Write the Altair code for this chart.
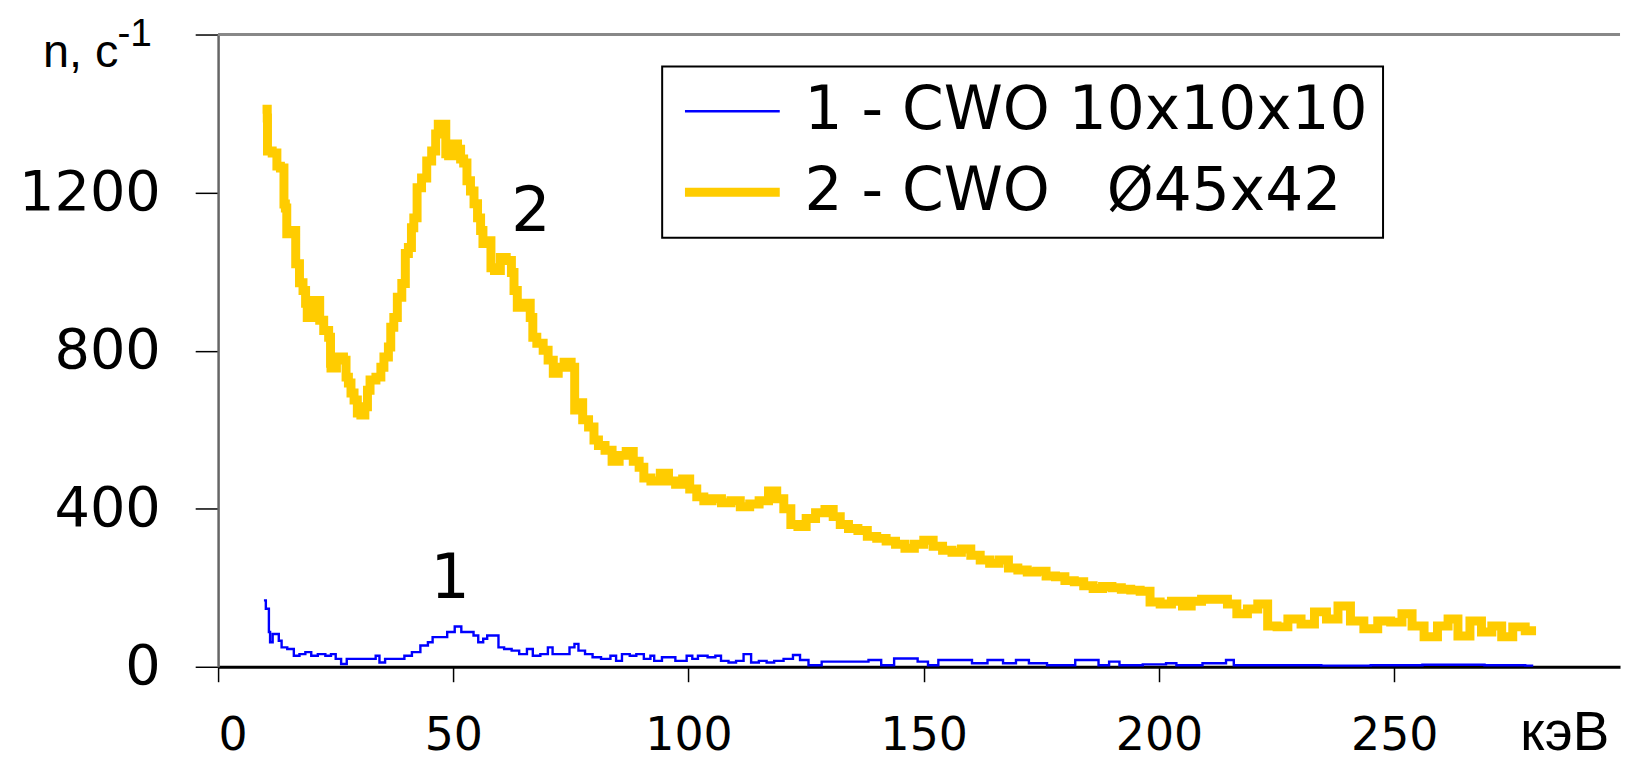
import altair as alt
import pandas as pd

# ---- series 1 : CWO 10x10x10 (blue) ----
E1 = [10.0, 10.3, 10.8, 10.8, 11.3, 11.9, 12.7, 13.1, 13.9, 15.5, 16.7, 17.9, 19.2, 20.4, 22.0,
      23.6, 24.4, 25.6, 26.7, 28.0, 33.3, 33.7, 34.9, 36.1, 39.0, 40.2, 42.2, 43.8, 45.4, 45.8,
      47.9, 49.5, 51.1, 52.3, 53.9, 54.7, 55.9, 56.8, 57.6, 59.2, 60.0, 61.6, 63.2, 64.8, 66.5,
      67.3, 69.7, 70.5, 71.7, 74.1, 75.3, 76.2, 77.0, 79.0, 80.2, 82.6, 84.2, 85.0, 86.7, 88.3,
      89.5, 91.5, 92.3, 93.1, 95.6, 98.8, 100.4, 101.2, 102.8, 105.3, 106.1, 107.7, 109.3, 110.9,
      112.5, 114.1, 115.8, 117.4, 119.0, 121.4, 123.0, 124.4, 126.6, 130.0, 136.6, 139.9, 142.0,
      145.4, 147.6, 149.8, 152.0, 154.2, 158.6, 161.9, 165.2, 168.5, 170.7, 174.0, 178.4, 186.0,
      188.3, 190.5, 192.7, 200.4, 202.6, 204.8, 213.7, 214.8, 217.0, 229.0, 240.0, 250.0, 262.0,
      276.4, 279.3]
N1 = [168, 147, 147, 88, 62, 83, 83, 66, 49, 45, 28, 32, 37, 28, 32,
      28, 32, 20, 7, 20, 20, 28, 11, 20, 20, 28, 37, 54, 62, 75,
      75, 88, 102, 88, 88, 79, 62, 71, 79, 79, 49, 45, 41, 32, 45,
      28, 32, 49, 32, 32, 49, 58, 41, 32, 24, 20, 28, 15, 32, 28,
      32, 20, 28, 15, 24, 15, 28, 20, 28, 24, 28, 15, 11, 15,
      32, 11, 15, 11, 15, 20, 30, 17, 4, 13, 13, 17, 4,
      21, 21, 13, 4, 17, 17, 9, 17, 9, 17, 9, 4, 17,
      4, 13, 4, 6, 9, 4, 9, 17, 4, 4, 3, 4, 5,
      4, 3]

# ---- series 2 : CWO diam 45x42 (yellow) ----
E2 = [10.4, 10.5, 10.5, 12.5, 12.5, 14.0, 14.0, 14.6, 14.6, 16.5, 16.5, 17.1, 17.5, 18.6, 18.6,
      19.3, 20.3, 21.4, 21.8, 23.1, 23.9, 23.9, 24.1, 26.2, 27.1, 27.3, 28.1, 28.4, 29.4, 29.8,
      30.9, 31.5, 32.0, 32.6, 34.5, 34.7, 35.8, 36.6, 36.8, 37.9, 38.3, 39.8, 39.8, 41.1, 41.1,
      42.1, 42.5, 44.0, 44.7, 46.1, 46.4, 47.2, 48.3, 48.5, 49.5, 50.4, 51.4, 51.7, 52.7, 53.1,
      54.2, 54.6, 55.7, 55.9, 56.7, 58.0, 58.0, 59.5, 60.5, 62.0, 62.7, 63.1, 64.1, 65.8, 66.9,
      66.9, 68.6, 69.6, 70.7, 71.8, 72.8, 74.3, 75.8, 75.8, 77.1, 77.9, 79.6, 80.2, 81.5, 83.0,
      84.5, 86.0, 87.5, 89.0, 90.0, 91.0, 93.0, 95.0, 96.5, 98.0, 99.5, 101.0, 102.5, 104.0, 106.0,
      108.0, 110.0, 112.0, 114.0, 116.0, 118.0, 119.5, 121.0, 122.5, 124.0, 126.0, 128.0, 130.0,
      131.5, 133.0, 135.0, 137.0, 139.0, 141.0, 143.0, 145.0, 147.0, 149.0, 151.0, 153.0, 155.0,
      157.0, 159.0, 161.0, 163.0, 165.0, 167.0, 169.0, 171.0, 173.0, 175.0, 177.0, 179.0, 181.0,
      183.0, 185.0, 187.0, 189.0, 191.0, 193.0, 195.0, 197.0, 199.2, 201.3, 204.0, 206.0, 207.7,
      210.4, 213.6, 215.5, 217.6, 220.0, 222.0, 224.2, 226.0, 228.8, 231.6, 234.5, 236.7, 239.4,
      242.0, 245.1, 247.9, 250.6, 252.7, 254.9, 257.8, 260.6, 262.3, 264.8, 267.4, 269.7, 271.8,
      273.9, 276.5, 279.2]
N2 = [1411, 1389, 1305, 1300, 1267, 1262, 1171, 1161, 1096, 1104, 1020, 1020, 972, 952, 920,
      884, 927, 927, 877, 851, 834, 768, 756, 784, 776, 733, 718, 693, 675, 642,
      637, 658, 700, 726, 733, 758, 784, 809, 859, 884, 935, 970, 1046, 1061, 1111,
      1136, 1212, 1237, 1280, 1305, 1348, 1373, 1373, 1298, 1293, 1323, 1310, 1285, 1275, 1230,
      1204, 1172, 1136, 1104, 1071, 1078, 1010, 1003, 1036, 1028, 998, 952, 910, 920, 884,
      834, 819, 801, 776, 743, 758, 771, 758, 650, 668, 625, 607, 574, 560, 548,
      520, 535, 545, 520, 505, 478, 470, 490, 470, 462, 475, 450, 430, 420, 425,
      415, 420, 405, 412, 420, 445, 425, 400, 360, 355, 375, 390, 398,
      380, 360, 350, 345, 330, 325, 318, 310, 300, 310, 320, 305, 295,
      290, 298, 282, 270, 262, 270, 250, 245, 240, 242, 230, 228, 218,
      215, 205, 198, 203, 200, 196, 194, 191, 164, 159, 166, 154, 166,
      171, 171, 159, 134, 146, 159, 103, 101, 121, 108, 139, 121, 154,
      116, 96, 116, 113, 134, 103, 76, 103, 121, 78, 116, 88, 103,
      76, 101, 91]

SERIES = ["1 - CWO 10x10x10", "2 - CWO\u00a0\u00a0\u00a0\u00d845x42"]
COLORS = ["#0000ff", "#ffcc00"]
WIDTHS = [2.4, 9]
X_TICKS = [0, 50, 100, 150, 200, 250]
Y_TICKS = [0, 400, 800, 1200, 1600]
X_DOMAIN = [0, 298]
Y_DOMAIN = [0, 1600]

CURVE_LABELS = ["1", "2"]
CURVE_LABEL_X = [49.3, 66.5]
CURVE_LABEL_Y = [222, 1150]

UNIT_TEXT = ["n, c", "-1"]
UNIT_X = [-37.2, -21.4]
UNIT_Y = [1519, 1570]
UNIT_SIZE = [47, 39]

df1 = pd.DataFrame({"E": E1, "N": N1, "series": SERIES[0]})
df2 = pd.DataFrame({"E": E2, "N": N2, "series": SERIES[1]})
df = pd.concat([df1, df2], ignore_index=True)
df["i"] = range(len(df))

x_axis = alt.Axis(values=X_TICKS, format="d", title="кэВ", titleX=1352, titleY=83,
                  titleAlign="center", titleBaseline="alphabetic", titleFont="Liberation Sans",
                  titleFontSize=55, titleFontWeight="normal", titleColor="black",
                  domainColor="black", domainWidth=3, tickColor="black", tickSize=15,
                  tickWidth=1.5, labelFont="DejaVu Sans", labelFontSize=46, labelColor="black",
                  labelPadding=32, grid=False, labelOverlap=False)
y_axis = alt.Axis(values=Y_TICKS, format="d", title=None,
                  labelExpr="datum.value == 1600 ? '' : datum.label",
                  domainColor="#666666", domainWidth=2.5, tickColor="black", tickSize=23,
                  tickWidth=1.5, labelFont="DejaVu Sans", labelFontSize=56, labelColor="black",
                  labelPadding=35, grid=False)

xs = alt.Scale(domain=X_DOMAIN, nice=False, zero=False)
ys = alt.Scale(domain=Y_DOMAIN, nice=False)

legend_def = dict(orient="none", legendX=446, legendY=32, title=None,
                  symbolType="M-1.7,0H1.7", symbolSize=3136,
                  symbolOffset=23, labelOffset=40,
                  labelFont="DejaVu Sans", labelFontSize=60,
                  labelColor="black", padding=15, rowPadding=19,
                  strokeColor="black", fillColor="white", labelLimit=0)

lines = alt.Chart(df).mark_line(interpolate="step", strokeJoin="miter", strokeCap="square").encode(
    x=alt.X("E:Q", scale=xs, axis=x_axis),
    y=alt.Y("N:Q", scale=ys, axis=y_axis),
    order="i:Q",
    color=alt.Color("series:N", scale=alt.Scale(domain=SERIES, range=COLORS),
                    legend=alt.Legend(**legend_def)),
    strokeWidth=alt.StrokeWidth("series:N",
                                scale=alt.Scale(type="point", padding=0, domain=SERIES, range=WIDTHS),
                                legend=alt.Legend(**legend_def)),
)

top_rule = alt.Chart(pd.DataFrame({"v": [Y_DOMAIN[1]]})).mark_rule(color="#888888", strokeWidth=3).encode(
    y=alt.Y("v:Q", scale=ys)
)

ann = pd.DataFrame({"t": CURVE_LABELS, "x": CURVE_LABEL_X, "y": CURVE_LABEL_Y})
curve_text = alt.Chart(ann).mark_text(font="DejaVu Sans", fontSize=62, color="black",
                                      align="center", baseline="middle").encode(
    x=alt.X("x:Q", scale=xs), y=alt.Y("y:Q", scale=ys), text="t:N")

unit = pd.DataFrame({"t": UNIT_TEXT, "x": UNIT_X, "y": UNIT_Y, "s": UNIT_SIZE})
unit_text = alt.Chart(unit).mark_text(font="Liberation Sans", color="black",
                                      align="left", baseline="alphabetic").encode(
    x=alt.X("x:Q", scale=xs), y=alt.Y("y:Q", scale=ys), text="t:N",
    size=alt.Size("s:Q", scale=None))

chart = alt.layer(top_rule, lines, curve_text, unit_text).properties(
    width=1408, height=635,
    autosize=alt.AutoSizeParams(type="none"),
    padding={"left": 211, "top": 25, "right": 4, "bottom": 97},
).configure_view(strokeWidth=0).configure_legend(strokeWidth=2)

chart.save("out.html", embed_options={"renderer": "svg", "actions": False})
